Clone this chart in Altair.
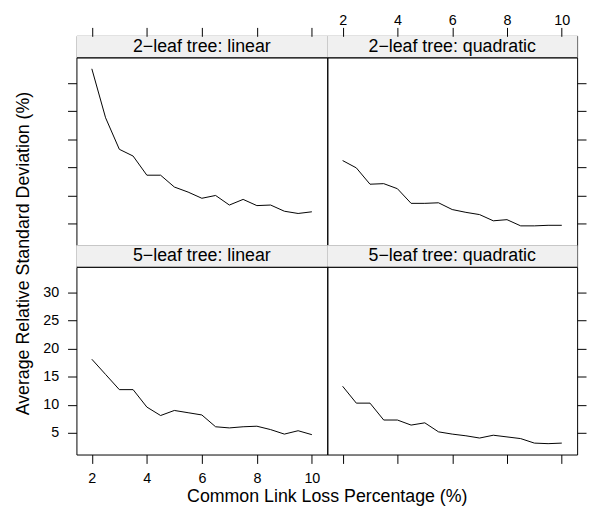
import altair as alt
import pandas as pd

# ---------------- data ----------------
x_vals = [2, 2.5, 3, 3.5, 4, 4.5, 5, 5.5, 6, 6.5, 7, 7.5, 8, 8.5, 9, 9.5, 10]
leaf2_linear = [32.5, 23.8, 18.2, 17.0, 13.6, 13.6, 11.5, 10.6, 9.5, 10.0, 8.3, 9.3, 8.2, 8.3, 7.2, 6.8, 7.1]
leaf2_quadratic = [16.2, 14.9, 12.0, 12.1, 11.2, 8.6, 8.6, 8.7, 7.5, 7.0, 6.6, 5.5, 5.7, 4.6, 4.6, 4.7, 4.7]
leaf5_linear = [18.1, 15.4, 12.7, 12.7, 9.6, 8.1, 9.0, 8.6, 8.2, 6.1, 5.9, 6.1, 6.2, 5.6, 4.8, 5.4, 4.7]
leaf5_quadratic = [13.3, 10.3, 10.3, 7.3, 7.3, 6.4, 6.8, 5.2, 4.8, 4.5, 4.1, 4.6, 4.3, 4.0, 3.2, 3.1, 3.2]
panel_labels = ["2\u2212leaf tree: linear", "2\u2212leaf tree: quadratic",
                "5\u2212leaf tree: linear", "5\u2212leaf tree: quadratic"]
x_ticks = [2, 4, 6, 8, 10]
y_ticks = [5, 10, 15, 20, 25, 30]
x_title = "Common Link Loss Percentage (%)"
y_title = "Average Relative Standard Deviation (%)"

# ---------------- layout ----------------
FONT = "Liberation Sans"
W_L, W_R = 254, 253
H_STRIP = 21.5
H_PANEL = 190
X_DOM = [1.44, 10.56]
Y_DOM = [1.17, 34.5]
LABEL_SIZE = 14.5
TEXT_SIZE = 18


def panel(values, width, x_orient, x_labels, y_orient, y_labels, titles=False):
    df = pd.DataFrame({"x": x_vals, "y": values})
    xs = alt.Scale(domain=X_DOM, nice=False, zero=False)
    ys = alt.Scale(domain=Y_DOM, nice=False, zero=False)
    xaxis = alt.Axis(
        orient=x_orient, values=x_ticks, labels=x_labels, title=None,
        domain=False, grid=False, ticks=True, tickSize=9, tickColor="black",
        tickWidth=1, labelFontSize=LABEL_SIZE, labelFont=FONT, labelColor="black",
        labelPadding=(0.3 if x_orient == "top" else 8.5),
        offset=(H_STRIP if x_orient == "top" else 0), format="d",
    )
    yaxis = alt.Axis(
        orient=y_orient, values=y_ticks, labels=y_labels, title=None,
        domain=False, grid=False, ticks=True, tickSize=9, tickColor="black",
        tickWidth=1, labelFontSize=LABEL_SIZE, labelFont=FONT, labelColor="black",
        labelPadding=9, format="d",
    )
    line = alt.Chart(df).mark_line(color="black", strokeWidth=1).encode(
        x=alt.X("x:Q", scale=xs, axis=xaxis),
        y=alt.Y("y:Q", scale=ys, axis=yaxis),
    )
    layers = [line]
    if titles:
        tdf = pd.DataFrame({"xt": [x_title], "yt": [y_title]})
        xt = alt.Chart(tdf).mark_text(
            font=FONT, fontSize=TEXT_SIZE, color="black", align="center", baseline="alphabetic"
        ).encode(x=alt.value(width), y=alt.value(H_PANEL + 48), text="xt:N")
        yt = alt.Chart(tdf).mark_text(
            font=FONT, fontSize=TEXT_SIZE, color="black", align="center", baseline="alphabetic", angle=270
        ).encode(x=alt.value(-47.7), y=alt.value(-13.5), text="yt:N")
        layers += [xt, yt]
    return alt.layer(*layers).properties(width=width, height=H_PANEL)


def strip(label, width):
    d = pd.DataFrame({"label": [label]})
    base = alt.Chart(d)
    rect = base.mark_rect(fill="#f0f0f0").encode(
        x=alt.value(0), x2=alt.value(width), y=alt.value(0), y2=alt.value(H_STRIP)
    )
    txt = base.mark_text(font=FONT, fontSize=TEXT_SIZE, color="black", baseline="middle").encode(
        x=alt.value(width / 2), y=alt.value(11), text="label:N"
    )
    return alt.layer(rect, txt).properties(
        width=width, height=H_STRIP, view=alt.ViewBackground(stroke="#555555")
    )


sTL = strip(panel_labels[0], W_L)
sTR = strip(panel_labels[1], W_R)
sBL = strip(panel_labels[2], W_L)
sBR = strip(panel_labels[3], W_R)

pTL = panel(leaf2_linear, W_L, "top", False, "left", False)
pTR = panel(leaf2_quadratic, W_R, "top", True, "right", False)
pBL = panel(leaf5_linear, W_L, "bottom", True, "left", True, titles=True)
pBR = panel(leaf5_quadratic, W_R, "bottom", False, "right", False)

chart = alt.concat(
    sTL, sTR, pTL, pTR, sBL, sBR, pBL, pBR,
    columns=2, spacing=0, bounds="flush", align="each",
).properties(
    padding={"left": 6.3, "top": 0, "right": 0, "bottom": 0}
).configure_view(stroke="black", strokeWidth=1)

chart.save("out.html", embed_options={"renderer": "svg", "actions": False})
